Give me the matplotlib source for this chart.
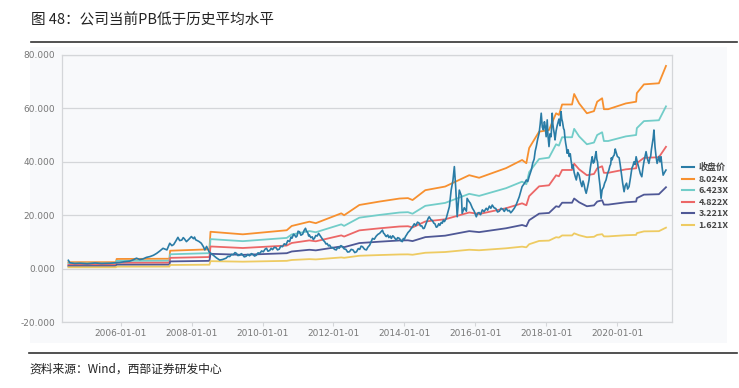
import pandas as pd
import matplotlib.pyplot as plt
import matplotlib.dates as mdates
from matplotlib.patches import Rectangle
from matplotlib.lines import Line2D

plt.rcParams['font.family'] = ['Noto Sans CJK SC', 'DejaVu Sans']

# closing price, (decimal year, value) pairs
price_pts = [
    (2004.52, 3.1), (2004.56, 2.2), (2004.70, 1.9), (2004.85, 2.0), (2005.05, 1.8), (2005.27, 2.1),
    (2005.45, 1.9), (2005.69, 2.0), (2005.85, 2.2), (2005.97, 2.3), (2006.10, 2.6), (2006.25, 2.8),
    (2006.35, 3.3), (2006.44, 3.9), (2006.53, 3.4), (2006.62, 3.6), (2006.72, 4.2), (2006.82, 4.5),
    (2006.92, 5.0), (2007.01, 5.7), (2007.10, 6.6), (2007.19, 7.6), (2007.30, 7.0), (2007.38, 9.5),
    (2007.44, 8.6), (2007.49, 9.0), (2007.55, 10.3), (2007.61, 11.7), (2007.66, 10.5), (2007.72, 10.7),
    (2007.76, 11.6), (2007.79, 11.2), (2007.85, 10.1), (2007.92, 11.0), (2007.99, 12.0), (2008.05, 11.2),
    (2008.08, 11.8), (2008.11, 10.8), (2008.20, 10.2), (2008.27, 9.5), (2008.33, 8.2), (2008.37, 7.0),
    (2008.42, 8.3), (2008.49, 6.3), (2008.55, 5.6), (2008.60, 5.1), (2008.70, 4.0), (2008.79, 3.2),
    (2008.87, 3.4), (2008.97, 3.9), (2009.02, 4.6), (2009.07, 4.5), (2009.12, 5.3), (2009.17, 5.2),
    (2009.22, 6.0), (2009.26, 5.7), (2009.30, 4.9), (2009.35, 5.0), (2009.40, 5.6), (2009.44, 5.1),
    (2009.48, 4.4), (2009.53, 4.6), (2009.58, 5.3), (2009.63, 4.8), (2009.68, 5.6), (2009.72, 5.4),
    (2009.77, 4.7), (2009.82, 5.0), (2009.87, 5.9), (2009.92, 5.7), (2009.97, 6.6), (2010.02, 6.3),
    (2010.07, 7.3), (2010.11, 7.6), (2010.15, 6.5), (2010.20, 6.8), (2010.24, 7.6), (2010.28, 7.1),
    (2010.33, 8.0), (2010.38, 7.8), (2010.42, 7.0), (2010.47, 7.3), (2010.51, 8.4), (2010.56, 8.2),
    (2010.61, 9.3), (2010.66, 8.9), (2010.71, 10.5), (2010.76, 10.1), (2010.80, 11.8), (2010.83, 11.4),
    (2010.87, 12.9), (2010.90, 12.6), (2010.94, 11.8), (2010.97, 12.2), (2011.00, 14.0), (2011.04, 13.8),
    (2011.08, 12.5), (2011.13, 12.9), (2011.17, 14.3), (2011.21, 15.1), (2011.24, 13.9), (2011.27, 13.6),
    (2011.30, 12.2), (2011.32, 12.6), (2011.36, 11.6), (2011.40, 11.9), (2011.43, 10.9), (2011.46, 11.3),
    (2011.50, 12.4), (2011.54, 12.2), (2011.58, 13.2), (2011.61, 12.6), (2011.65, 11.8), (2011.68, 11.2),
    (2011.72, 10.5), (2011.75, 10.1), (2011.79, 9.2), (2011.82, 9.4), (2011.86, 8.5), (2011.89, 8.8),
    (2011.94, 7.8), (2011.98, 7.9), (2012.03, 7.2), (2012.08, 7.0), (2012.12, 8.0), (2012.16, 7.6),
    (2012.21, 8.6), (2012.25, 8.2), (2012.30, 7.4), (2012.35, 7.2), (2012.40, 6.2), (2012.45, 6.3),
    (2012.50, 7.2), (2012.55, 7.0), (2012.60, 6.0), (2012.65, 6.3), (2012.70, 7.5), (2012.74, 7.2),
    (2012.78, 8.4), (2012.82, 8.2), (2012.88, 7.2), (2012.93, 7.0), (2012.97, 8.0), (2013.02, 8.8),
    (2013.06, 10.0), (2013.10, 11.3), (2013.15, 11.0), (2013.20, 12.1), (2013.25, 12.8), (2013.30, 13.2),
    (2013.34, 13.8), (2013.38, 14.4), (2013.41, 13.3), (2013.44, 12.9), (2013.47, 12.2), (2013.49, 12.0),
    (2013.53, 12.6), (2013.56, 11.6), (2013.60, 12.2), (2013.63, 11.3), (2013.67, 12.3), (2013.70, 11.9),
    (2013.74, 11.2), (2013.77, 10.7), (2013.81, 11.6), (2013.86, 11.3), (2013.90, 10.4), (2013.94, 10.1),
    (2013.97, 11.3), (2014.00, 11.0), (2014.03, 12.0), (2014.06, 12.6), (2014.10, 13.5), (2014.15, 14.2),
    (2014.19, 15.0), (2014.23, 15.7), (2014.28, 16.8), (2014.32, 16.1), (2014.37, 17.4), (2014.42, 17.0),
    (2014.45, 16.0), (2014.49, 16.0), (2014.53, 15.0), (2014.56, 15.1), (2014.60, 16.5), (2014.63, 17.5),
    (2014.67, 18.8), (2014.70, 19.4), (2014.75, 18.3), (2014.79, 18.0), (2014.83, 17.0), (2014.86, 16.8),
    (2014.90, 15.5), (2014.93, 15.7), (2014.97, 16.8), (2015.00, 16.2), (2015.04, 17.3), (2015.07, 17.0),
    (2015.10, 18.2), (2015.13, 17.6), (2015.18, 18.8), (2015.27, 23.2), (2015.32, 29.4), (2015.37, 33.0),
    (2015.41, 38.2), (2015.45, 30.0), (2015.49, 19.4), (2015.55, 29.4), (2015.61, 27.2), (2015.63, 20.7),
    (2015.69, 22.8), (2015.75, 21.5), (2015.77, 26.3), (2015.82, 25.2), (2015.86, 24.5), (2015.92, 22.6),
    (2015.97, 21.5), (2016.03, 19.4), (2016.07, 20.8), (2016.11, 21.0), (2016.15, 20.2), (2016.20, 22.0),
    (2016.25, 21.3), (2016.31, 22.6), (2016.35, 21.9), (2016.40, 23.4), (2016.44, 22.6), (2016.48, 23.8),
    (2016.53, 22.8), (2016.58, 22.5), (2016.63, 21.2), (2016.68, 21.5), (2016.73, 22.6), (2016.78, 22.2),
    (2016.82, 21.4), (2016.87, 22.6), (2016.92, 21.6), (2016.96, 21.8), (2017.00, 20.9), (2017.04, 21.5),
    (2017.10, 22.6), (2017.15, 23.8), (2017.20, 25.5), (2017.24, 26.9), (2017.28, 28.8), (2017.32, 30.7),
    (2017.38, 31.8), (2017.44, 33.2), (2017.48, 32.6), (2017.52, 34.5), (2017.58, 36.9), (2017.62, 39.5),
    (2017.66, 41.0), (2017.69, 44.0), (2017.72, 45.7), (2017.76, 48.5), (2017.80, 50.7), (2017.83, 54.0),
    (2017.86, 58.2), (2017.89, 53.0), (2017.92, 52.0), (2017.95, 55.0), (2017.97, 53.5), (2018.00, 49.4),
    (2018.03, 55.7), (2018.05, 50.0), (2018.08, 45.7), (2018.11, 50.5), (2018.14, 49.4), (2018.17, 58.2),
    (2018.19, 54.0), (2018.21, 52.0), (2018.23, 50.5), (2018.25, 48.2), (2018.28, 51.5), (2018.31, 53.5),
    (2018.34, 55.0), (2018.36, 56.0), (2018.39, 53.5), (2018.42, 58.8), (2018.44, 56.0), (2018.46, 55.0),
    (2018.49, 52.5), (2018.51, 51.9), (2018.53, 49.0), (2018.55, 47.0), (2018.57, 45.5), (2018.59, 43.2),
    (2018.62, 44.5), (2018.65, 42.0), (2018.68, 43.0), (2018.70, 40.7), (2018.72, 39.0), (2018.73, 37.6),
    (2018.76, 38.8), (2018.79, 36.0), (2018.82, 34.5), (2018.85, 33.2), (2018.89, 36.0), (2018.93, 35.0),
    (2018.97, 32.5), (2019.01, 30.7), (2019.04, 32.8), (2019.07, 31.5), (2019.10, 29.5), (2019.13, 28.2),
    (2019.17, 30.5), (2019.21, 33.2), (2019.23, 36.0), (2019.25, 38.0), (2019.28, 40.5), (2019.30, 41.9),
    (2019.33, 39.5), (2019.36, 40.0), (2019.39, 42.5), (2019.41, 43.8), (2019.43, 41.0), (2019.45, 40.0),
    (2019.47, 37.0), (2019.49, 34.4), (2019.52, 31.0), (2019.55, 26.3), (2019.58, 29.5), (2019.62, 30.5),
    (2019.65, 32.0), (2019.69, 33.2), (2019.73, 35.5), (2019.77, 36.9), (2019.80, 38.5), (2019.82, 39.0),
    (2019.84, 41.5), (2019.86, 40.7), (2019.89, 42.0), (2019.92, 42.5), (2019.95, 44.8), (2019.97, 43.8),
    (2020.01, 42.0), (2020.06, 41.5), (2020.09, 39.0), (2020.12, 36.0), (2020.16, 32.0), (2020.20, 28.8),
    (2020.23, 31.0), (2020.27, 32.0), (2020.30, 29.8), (2020.34, 30.7), (2020.38, 34.0), (2020.42, 37.6),
    (2020.45, 38.5), (2020.48, 40.0), (2020.51, 39.0), (2020.54, 41.9), (2020.58, 39.5), (2020.62, 37.6),
    (2020.66, 35.5), (2020.70, 34.4), (2020.73, 37.5), (2020.76, 40.0), (2020.79, 42.0), (2020.82, 43.8),
    (2020.86, 41.0), (2020.90, 39.4), (2020.93, 41.5), (2020.95, 42.0), (2020.97, 44.5), (2020.99, 46.3),
    (2021.02, 49.0), (2021.04, 51.9), (2021.06, 48.0), (2021.07, 45.7), (2021.10, 42.0), (2021.13, 39.4),
    (2021.16, 41.0), (2021.18, 42.0), (2021.21, 40.0), (2021.24, 41.9), (2021.27, 38.0), (2021.30, 35.0),
    (2021.34, 36.0), (2021.38, 36.9),
]

# book value per share behind the PB bands (decimal year, value)
bvps_t = [2004.52, 2005.86, 2005.88, 2007.37, 2007.39, 2008.50, 2008.53, 2009.44, 2010.68, 2010.82,
          2011.32, 2011.50, 2012.22, 2012.30, 2012.73, 2013.30, 2013.86, 2014.10, 2014.23, 2014.59,
          2015.15, 2015.83, 2016.11, 2016.87, 2017.32, 2017.44, 2017.52, 2017.80, 2018.08, 2018.28,
          2018.36, 2018.45, 2018.73, 2018.79, 2018.93, 2019.15, 2019.35, 2019.44, 2019.58, 2019.63,
          2019.75, 2020.25, 2020.54, 2020.56, 2020.76, 2021.18, 2021.38]
bvps_v = [0.30, 0.30, 0.45, 0.46, 0.835, 0.90, 1.72, 1.60, 1.79, 1.99,
          2.19, 2.12, 2.58, 2.49, 2.97, 3.13, 3.27, 3.29, 3.20, 3.66,
          3.83, 4.36, 4.24, 4.69, 5.07, 4.92, 5.63, 6.39, 6.47, 7.25,
          7.17, 7.66, 7.66, 8.15, 7.71, 7.25, 7.35, 7.79, 7.95, 7.44,
          7.44, 7.71, 7.79, 8.19, 8.60, 8.65, 9.46]

pb_multiples = [8.024, 6.423, 4.822, 3.221, 1.621]
band_labels = ['8.024X', '6.423X', '4.822X', '3.221X', '1.621X']
band_colors = ['#f7902f', '#72cdc9', '#ec6767', '#4f5896', '#eecb62']
price_color = '#2a7ca6'


def to_date(v):
    return pd.Timestamp(int(v), 1, 1) + pd.Timedelta(days=(v % 1) * 365.25)


price_dates = [to_date(t) for t, v in price_pts]
price_v = [v for t, v in price_pts]
bvps_dates = [to_date(v) for v in bvps_t]

fig = plt.figure(figsize=(7.39, 3.88), dpi=100)
fig.patches.append(Rectangle((30 / 739, 1 - 343 / 388), 697 / 739, 296 / 388,
                             transform=fig.transFigure, facecolor='#f8f9fb',
                             edgecolor='none', zorder=-5))
ax = fig.add_axes([62 / 739, 1 - 322 / 388, 610 / 739, 267 / 388])
ax.set_facecolor('#f8f9fb')

ax.plot(price_dates, price_v, color=price_color, lw=1.2, zorder=4)
for m, c in zip(pb_multiples, band_colors):
    ax.plot(bvps_dates, [m * b for b in bvps_v], color=c, lw=1.3, zorder=3)

ax.set_ylim(-20, 80)
ax.set_yticks([-20, 0, 20, 40, 60, 80])
ax.yaxis.set_major_formatter(plt.FuncFormatter(lambda v, p: f'{v:.3f}'))
ax.set_xlim(to_date(2004.34), to_date(2021.55))
ax.xaxis.set_major_locator(mdates.YearLocator(2, month=1, day=1))
ax.xaxis.set_major_formatter(mdates.DateFormatter('%Y-%m-%d'))
ax.grid(axis='y', color='#d4d6d9', lw=0.9)
ax.set_axisbelow(True)
for s in ax.spines.values():
    s.set_color('#d4d6d9')
    s.set_linewidth(0.9)
ax.tick_params(axis='y', length=0, pad=5, labelsize=6.5, labelcolor='#777777')
ax.tick_params(axis='x', length=3, color='#d4d6d9', pad=2, labelsize=6.5, labelcolor='#777777')
for lab in ax.get_xticklabels() + ax.get_yticklabels():
    lab.set_family(['Liberation Sans Narrow', 'DejaVu Sans'])

handles = [Line2D([], [], color=price_color, lw=1.5)] + \
          [Line2D([], [], color=c, lw=1.5) for c in band_colors]
labels = ['收盘价'] + band_labels
leg = fig.legend(handles, labels, loc='upper left', bbox_to_anchor=(674 / 739, 1 - 155 / 388),
                 frameon=False, handlelength=1.3, handletextpad=0.5, labelspacing=0.28,
                 prop={'size': 6.5, 'weight': 'bold'})
for t in leg.get_texts():
    t.set_color('#444444')

fig.text(31 / 739, 1 - 21 / 388, '图 48：公司当前PB低于历史平均水平', fontsize=10.5,
         color='#222222', va='center', ha='left')
fig.add_artist(Line2D([31 / 739, 737 / 739], [1 - 42 / 388, 1 - 42 / 388],
                      transform=fig.transFigure, color='#333333', lw=1.2))
fig.add_artist(Line2D([29 / 739, 737 / 739], [1 - 353 / 388, 1 - 353 / 388],
                      transform=fig.transFigure, color='#333333', lw=1.2))
fig.text(29 / 739, 1 - 369 / 388, '资料来源：Wind，西部证券研发中心', fontsize=8.5,
         color='#222222', va='center', ha='left')

fig.savefig('out.png', dpi=100)
